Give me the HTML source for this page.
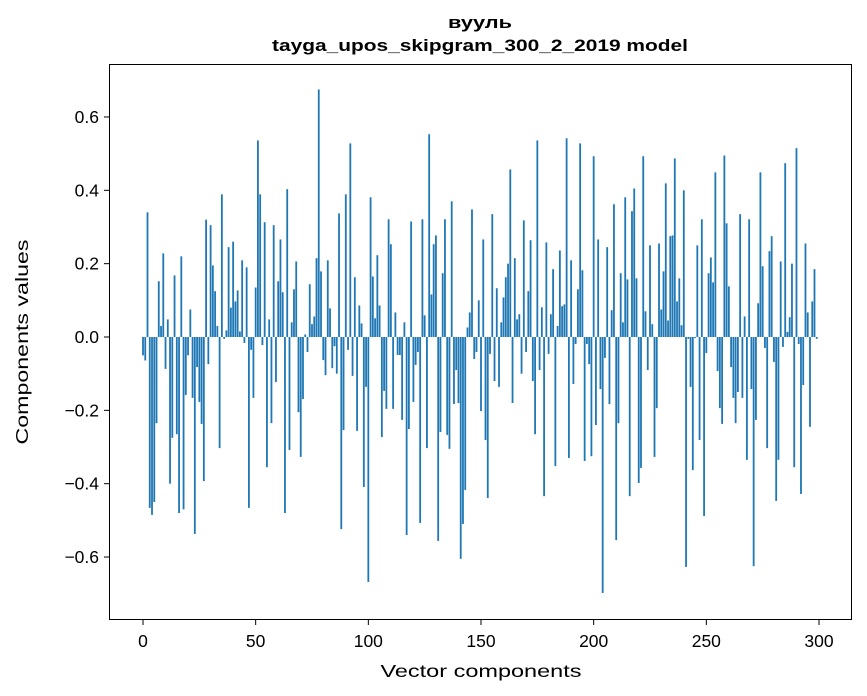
<!DOCTYPE html>
<html><head><meta charset="utf-8"><style>
html,body{margin:0;padding:0;background:#fff;}
svg{display:block;font-family:"Liberation Sans","DejaVu Sans",sans-serif;}
</style></head><body>
<svg id="chart" width="867" height="696" viewBox="0 0 867 696" xmlns="http://www.w3.org/2000/svg">
<rect x="0" y="0" width="867" height="696" fill="#fff"/>
<text x="480" y="28" text-anchor="middle" font-size="17" font-weight="bold" textLength="64" lengthAdjust="spacingAndGlyphs">вууль</text>
<text x="480" y="51" text-anchor="middle" font-size="17" font-weight="bold" textLength="416" lengthAdjust="spacingAndGlyphs">tayga_upos_skipgram_300_2_2019 model</text>
<g id="bars"></g>
<g id="axes"></g>
<rect x="109.5" y="64.5" width="742" height="555" fill="none" stroke="#000" stroke-width="1"/>
<text x="481" y="677" text-anchor="middle" font-size="17.5" textLength="201" lengthAdjust="spacingAndGlyphs">Vector components</text>
<text transform="translate(28,342) rotate(-90)" text-anchor="middle" font-size="17.5" textLength="205" lengthAdjust="spacingAndGlyphs">Components values</text>
</svg>
<script>
const values = [
-.05,-.064,.34,-.466,-.485,-.45,-.235,.152,.03,.228,-.087,.048,-.4,-.275,.168,-.265,-.48,.22,-.47,-.158,-.05,.075,-.166,-.537,-.082,-.177,-.237,-.393,.32,-.074,.305,.195,.125,.03,-.303,.389,-.005,.018,.245,.08,.26,.097,.127,.015,.209,-.016,.19,-.466,-.035,-.166,
.135,.536,.389,-.022,.313,-.355,.048,-.235,.305,-.123,.152,.266,.122,-.48,.403,-.308,.04,.13,.206,-.205,-.327,-.169,.007,-.041,.144,.035,.056,.215,.675,.179,-.063,-.104,.209,.078,-.085,-.025,-.1,.337,-.524,-.254,.389,-.035,.528,-.106,.163,-.256,.086,.037,-.409,-.136,
-.668,.381,.165,.051,.223,.086,-.273,-.147,-.196,.321,.253,-.196,.067,-.049,-.049,-.226,.04,-.54,-.251,.315,-.177,-.076,-.041,-.507,.321,.059,-.303,.553,.116,.253,.277,-.556,-.259,.174,.321,-.267,-.305,.37,-.183,-.09,-.18,-.605,-.51,-.417,.026,.067,.348,-.06,-.041,.1,
-.202,.266,-.281,-.439,-.046,.335,-.12,.133,-.136,.04,.108,.163,.2,.457,-.18,.215,.048,.062,-.1,.318,-.041,.125,.264,-.12,-.265,.536,-.09,.081,-.434,.258,-.046,.062,.185,-.352,.03,.236,.084,.089,.542,-.33,.209,-.128,-.019,.13,.528,.182,-.338,-.019,-.074,-.325,
.493,-.24,.266,-.142,-.698,-.057,.245,-.183,.073,.362,-.554,-.235,.174,.04,.381,.157,-.434,.343,.405,.16,-.398,-.357,.493,.07,-.09,.25,.035,-.327,-.194,.255,.075,.179,.419,.045,.275,.277,.487,.097,.16,.032,.4,-.627,-.005,-.136,-.363,-.003,.25,-.281,.321,-.488,
-.044,.174,.217,.149,.449,-.093,-.194,-.237,.495,.31,.138,-.082,-.166,-.235,-.15,.335,-.166,.056,-.335,.321,-.142,-.625,-.226,.092,.449,.193,-.03,-.303,.234,.275,-.068,-.447,-.335,.206,-.027,.474,.014,.054,.2,-.355,.515,-.019,-.428,-.131,.255,.067,-.245,.097,.185,-.005
];
const xTicks = [0,50,100,150,200,250,300];
const yTicks = [-0.6,-0.4,-0.2,0.0,0.2,0.4,0.6];
const yTickLabels = ["\u22120.6","\u22120.4","\u22120.2","0.0","0.2","0.4","0.6"];

const NS = "http://www.w3.org/2000/svg";
const xScale = v => 143 + v * (676/300);
const yScale = v => 337 - v * 366.7;
const bw = 0.8 * 676/300;
const barsG = document.getElementById('bars');
values.forEach((v,i)=>{
  const r = document.createElementNS(NS,'rect');
  const y0 = yScale(0), y1 = yScale(v);
  r.setAttribute('x', xScale(i) - bw/2);
  r.setAttribute('y', Math.min(y0,y1));
  r.setAttribute('width', bw);
  r.setAttribute('height', Math.max(Math.abs(y1-y0),0.3));
  r.setAttribute('fill', '#1f77b4');
  
  
  barsG.appendChild(r);
});
const axG = document.getElementById('axes');
xTicks.forEach(t=>{
  const x = xScale(t);
  const l = document.createElementNS(NS,'line');
  l.setAttribute('x1',x);l.setAttribute('x2',x);l.setAttribute('y1',620);l.setAttribute('y2',625);
  l.setAttribute('stroke','#000');
  
  
  axG.appendChild(l);
  const tx = document.createElementNS(NS,'text');
  tx.setAttribute('x',x);tx.setAttribute('y',647);tx.setAttribute('text-anchor','middle');tx.setAttribute('font-size','17.5');
  tx.textContent = t;
  
  
  axG.appendChild(tx);
});
yTicks.forEach((t,i)=>{
  const y = yScale(t);
  const l = document.createElementNS(NS,'line');
  l.setAttribute('x1',104);l.setAttribute('x2',109);l.setAttribute('y1',y);l.setAttribute('y2',y);
  l.setAttribute('stroke','#000');
  
  
  axG.appendChild(l);
  const tx = document.createElementNS(NS,'text');
  tx.setAttribute('x',99);tx.setAttribute('y',y+6);tx.setAttribute('text-anchor','end');tx.setAttribute('font-size','17.5');
  tx.textContent = yTickLabels[i];
  
  
  axG.appendChild(tx);
});
</script>
</body></html>
